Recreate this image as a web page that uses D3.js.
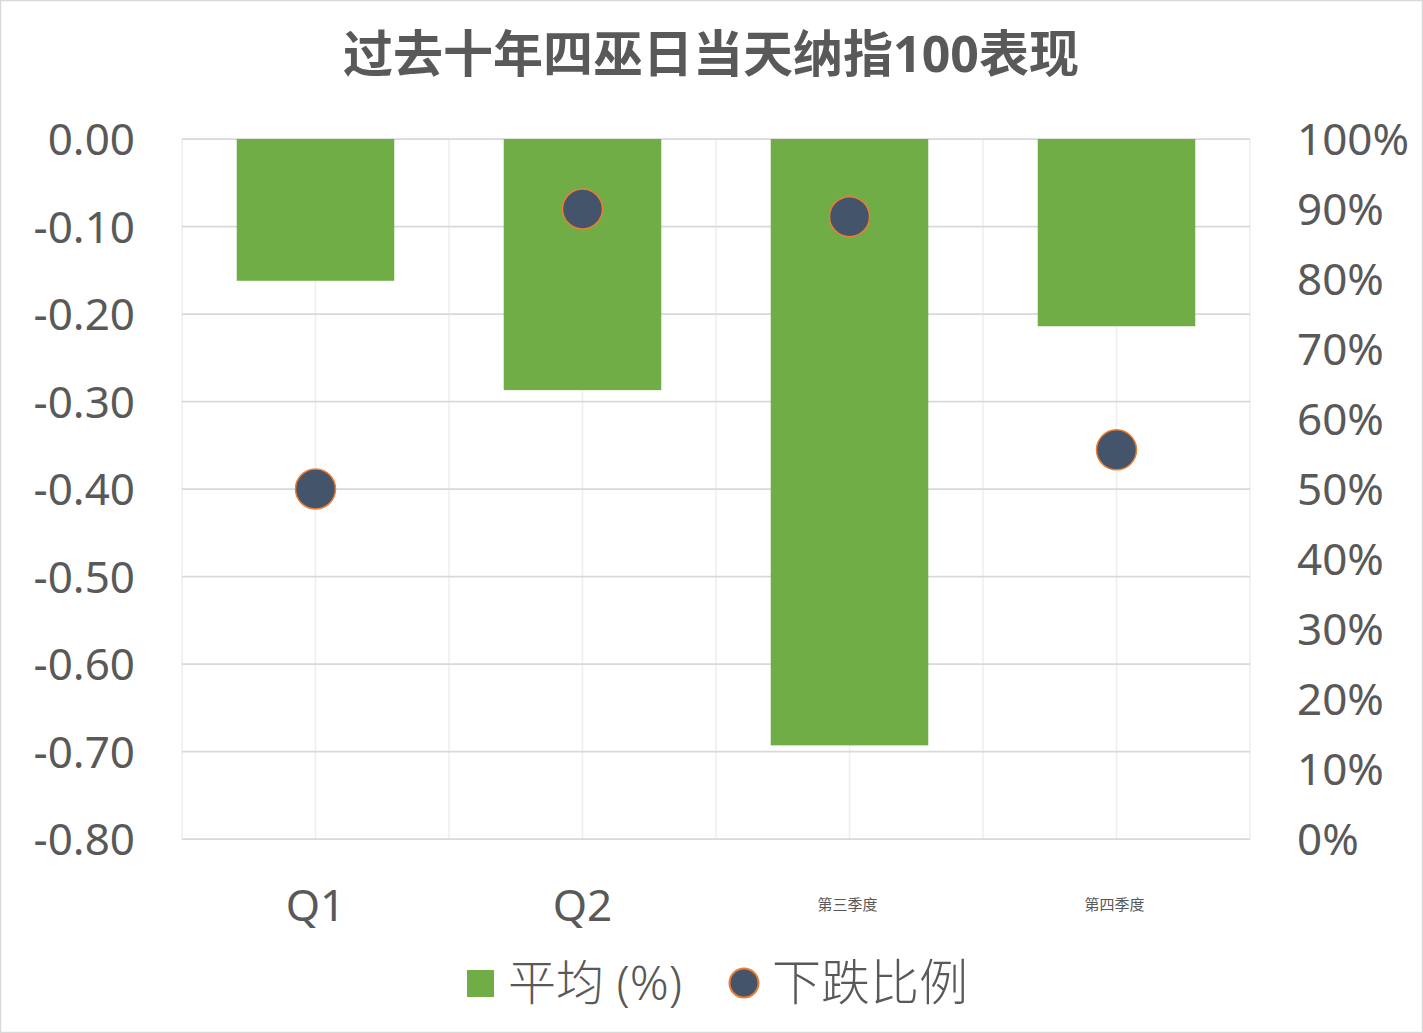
<!DOCTYPE html>
<html><head><meta charset="utf-8">
<script src="https://cdn.jsdelivr.net/npm/d3@7/dist/d3.min.js"></script>
<style>
html,body{margin:0;padding:0;background:#fff;}
text{font-family:"Noto Sans","Noto Sans CJK SC",sans-serif;fill:#595959;}
</style></head>
<body>
<svg id="c" width="1423" height="1033"></svg>
<script>
const titleText = "过去十年四巫日当天纳指100表现";
const categories = ["Q1", "Q2", "第三季度", "第四季度"];
const avgValues = [-0.162, -0.287, -0.693, -0.214];
const dropRatio = [0.50, 0.90, 0.889, 0.556];
const leftTicks = [0, -0.1, -0.2, -0.3, -0.4, -0.5, -0.6, -0.7, -0.8];
const rightTicks = [0, 0.1, 0.2, 0.3, 0.4, 0.5, 0.6, 0.7, 0.8, 0.9, 1.0];
const legendLabels = ["平均 (%)", "下跌比例"];

const svg = d3.select("#c");
const L = 182, R = 1250, T = 139, B = 839;

svg.append("rect").attr("x",0.5).attr("y",0.5).attr("width",1422).attr("height",1032)
  .attr("fill","#fff").attr("stroke","#d9d9d9").attr("stroke-width",1.5);

const x = d3.scaleBand().domain(categories).range([L, R]).paddingInner(0.41).paddingOuter(0.205);
const xb = d3.scaleBand().domain(categories).range([L, R]).padding(0);
const yL = d3.scaleLinear().domain([-0.8, 0]).range([B, T]);
const yR = d3.scaleLinear().domain([0, 1]).range([B, T]);

// vertical gridlines (boundaries + centers)
const vlines = [];
categories.forEach(c => { vlines.push(xb(c)); vlines.push(xb(c) + xb.bandwidth()/2); });
vlines.push(R);
svg.append("g").selectAll("line").data(vlines).join("line")
  .attr("x1", d=>d).attr("x2", d=>d).attr("y1", T).attr("y2", B)
  .attr("stroke", "#eeeeee").attr("stroke-width", 1.5);

// horizontal gridlines
svg.append("g").selectAll("line").data(leftTicks).join("line")
  .attr("x1", L).attr("x2", R).attr("y1", d=>yL(d)).attr("y2", d=>yL(d))
  .attr("stroke", "#d9d9d9").attr("stroke-width", 1.75);

// bars
svg.append("g").selectAll("rect").data(avgValues).join("rect")
  .attr("x", (d,i)=>x(categories[i])).attr("width", x.bandwidth())
  .attr("y", yL(0)).attr("height", d=>yL(d)-yL(0))
  .attr("fill", "#70ad47");

// dots
svg.append("g").selectAll("circle").data(dropRatio).join("circle")
  .attr("cx", (d,i)=>xb(categories[i]) + xb.bandwidth()/2).attr("cy", d=>yR(d))
  .attr("r", 20).attr("fill", "#44546a").attr("stroke", "#ed7d31").attr("stroke-width", 1.5);

// left axis labels
svg.append("g").selectAll("text").data(leftTicks).join("text")
  .attr("x", 135).attr("y", d=>yL(d)+16).attr("text-anchor","end")
  .attr("font-size", 44).text(d=>d3.format(".2f")(d).replace("−","-"));

// right axis labels
svg.append("g").selectAll("text").data(rightTicks).join("text")
  .attr("x", 1297).attr("y", d=>yR(d)+16).attr("text-anchor","start")
  .attr("font-size", 44).text(d=>d3.format(".0%")(d));

// category labels
svg.append("g").selectAll("text").data(categories).join("text")
  .attr("x", c=>xb(c)+xb.bandwidth()/2 - (c.startsWith("Q") ? 0 : 2)).attr("text-anchor","middle")
  .attr("y", c=>c.startsWith("Q") ? 921 : 910)
  .attr("font-size", c=>c.startsWith("Q") ? 44 : 15)
  .text(c=>c);

// title
svg.append("text").attr("x", 711).attr("y", 72).attr("text-anchor","middle")
  .attr("font-size", 50).attr("font-weight","bold").text(titleText);

// legend
const lg = svg.append("g");
lg.append("rect").attr("x",467).attr("y",970).attr("width",27).attr("height",27).attr("fill","#70ad47");
lg.append("text").attr("x",508).attr("y",1000).attr("font-size",48).attr("font-weight",300).text(legendLabels[0]);
lg.append("circle").attr("cx",744).attr("cy",983).attr("r",14.5).attr("fill","#44546a").attr("stroke","#ed7d31").attr("stroke-width",2);
lg.append("text").attr("x",772).attr("y",1000).attr("font-size",49).attr("font-weight",300).text(legendLabels[1]);
</script>
</body></html>
